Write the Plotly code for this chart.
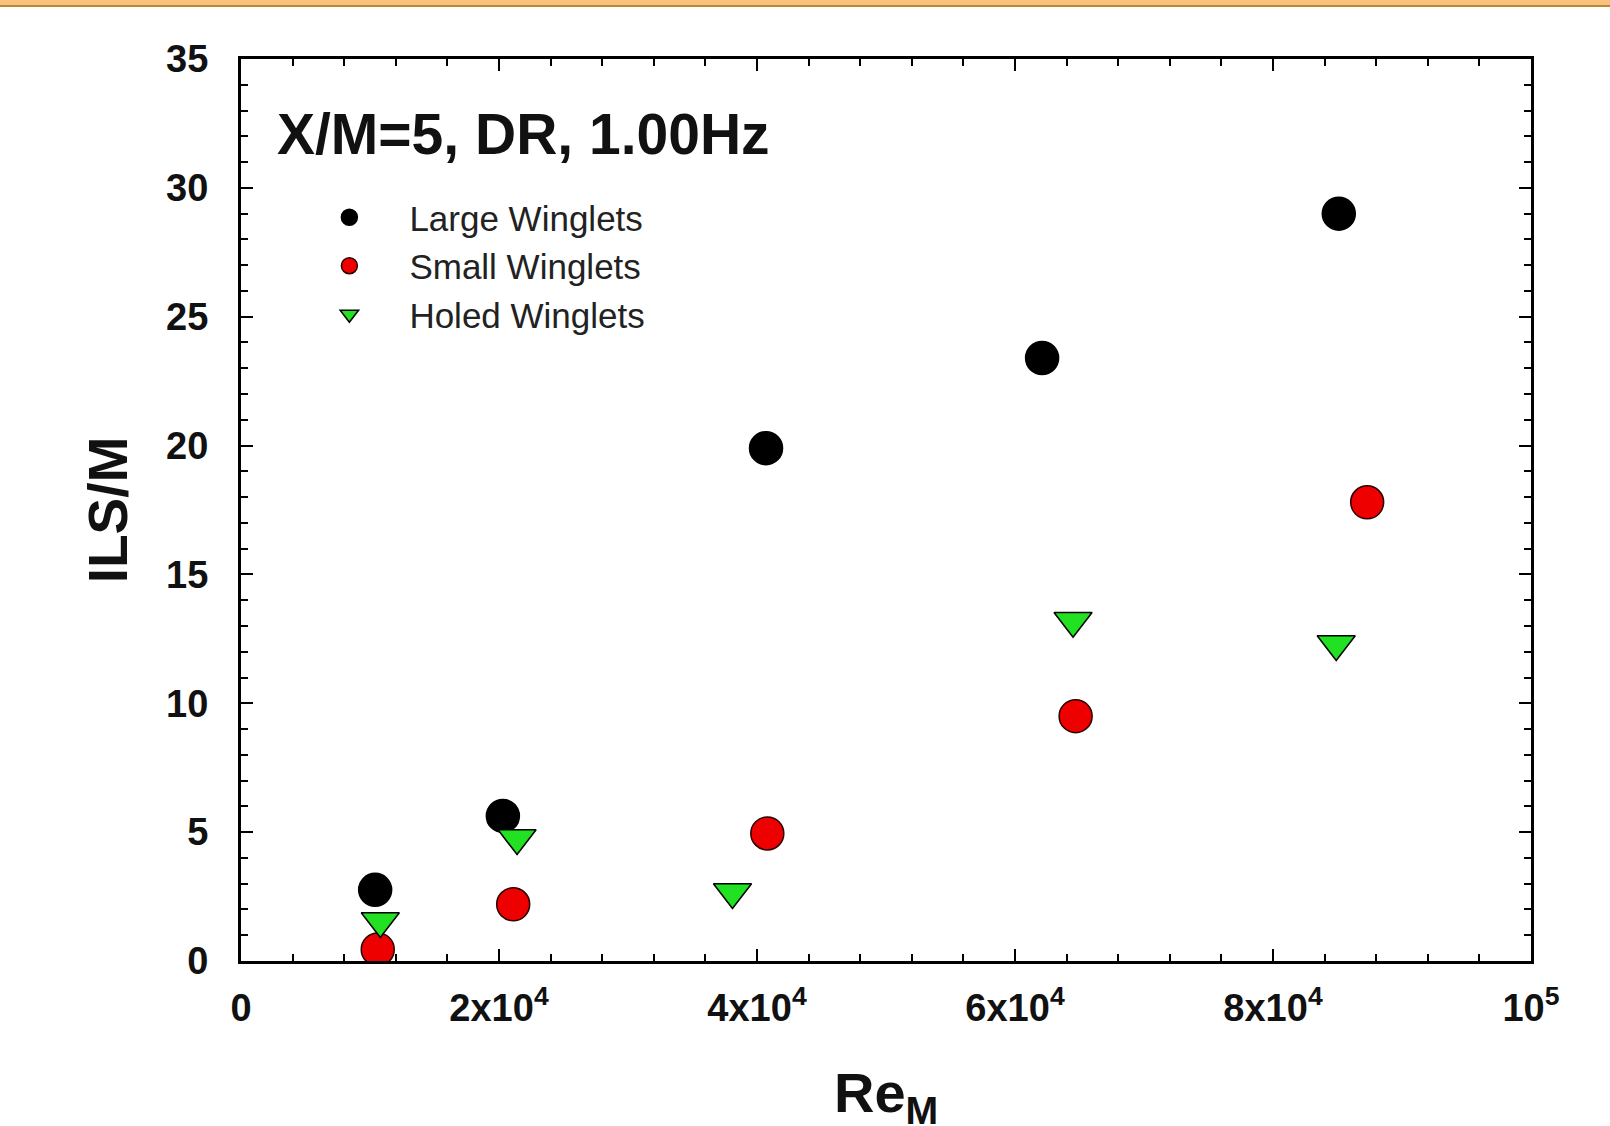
import plotly.graph_objects as go

# ---- data ----
series_names = ["Large Winglets", "Small Winglets", "Holed Winglets"]
large_x = [10400, 20300, 40700, 62100, 85100]
large_y = [2.76, 5.63, 19.9, 23.4, 29.0]
small_x = [10600, 21100, 40800, 64700, 87300]
small_y = [0.45, 2.2, 4.95, 9.5, 17.8]
holed_x = [10800, 21400, 38100, 64500, 84900]
holed_y = [1.55, 4.77, 2.68, 13.2, 12.3]

x_tickvals = [0, 20000, 40000, 60000, 80000, 100000]
x_ticktext = ["0", "2x10<sup>4</sup>", "4x10<sup>4</sup>", "6x10<sup>4</sup>",
              "8x10<sup>4</sup>", "10<sup>5</sup>"]
y_tickvals = [0, 5, 10, 15, 20, 25, 30, 35]

annotation_text = "X/M=5, DR, 1.00Hz"
x_title = "Re<sub>M</sub>"
y_title = "ILS/M"

FONT = "Liberation Sans, Arial, Helvetica, sans-serif"

fig = go.Figure()
fig.add_trace(go.Scatter(
    x=large_x, y=large_y, mode="markers", name=series_names[0],
    marker=dict(symbol="circle", size=33, color="#000000",
                line=dict(color="#000000", width=1.5))))
fig.add_trace(go.Scatter(
    x=small_x, y=small_y, mode="markers", name=series_names[1],
    marker=dict(symbol="circle", size=33, color="#ee0000",
                line=dict(color="#2a0000", width=1.5))))
fig.add_trace(go.Scatter(
    x=holed_x, y=holed_y, mode="markers", name=series_names[2],
    marker=dict(symbol="triangle-down", size=33, color="#22e022",
                line=dict(color="#000000", width=1.5))))

axis_common = dict(
    showgrid=False, zeroline=False, showline=True, linecolor="#000000",
    linewidth=3, mirror="allticks", ticks="inside", ticklen=12, tickwidth=2,
    tickcolor="#000000", automargin=False,
    tickfont=dict(family=FONT, size=38, color="#111111", weight="bold"),
)

fig.update_xaxes(
    **axis_common, range=[0, 100000], tickvals=x_tickvals, ticktext=x_ticktext,
    minor=dict(dtick=4000, tick0=0, ticks="inside", ticklen=7, tickwidth=2,
               tickcolor="#000000"),
    ticklabelstandoff=11,
)
fig.update_yaxes(
    **axis_common, range=[0, 35], tickvals=y_tickvals,
    minor=dict(dtick=1, tick0=0, ticks="inside", ticklen=7, tickwidth=2,
               tickcolor="#000000"),
    ticklabelstandoff=22,
    title=dict(text=y_title, standoff=21,
               font=dict(family=FONT, size=55, color="#111111", weight="bold")),
)

# x-axis title, placed as an annotation below the tick labels
fig.add_annotation(
    text=x_title, xref="paper", yref="paper", x=0.5, y=0,
    xanchor="center", yanchor="top", yshift=-98, showarrow=False,
    font=dict(family=FONT, size=56, color="#111111", weight="bold"),
)

fig.add_annotation(
    text=annotation_text, xref="paper", yref="paper", x=0.026, y=0.955,
    xanchor="left", yanchor="top", showarrow=False,
    font=dict(family=FONT, size=57, color="#111111", weight="bold"),
)

# decorative orange band along the very top of the picture
fig.add_shape(type="rect", xref="paper", yref="paper", x0=-0.3, x1=1.3,
              ysizemode="pixel", yanchor=1, y0=59, y1=53,
              fillcolor="#f6c27c", line=dict(width=0), layer="above")
fig.add_shape(type="line", xref="paper", yref="paper", x0=-0.3, x1=1.3,
              ysizemode="pixel", yanchor=1, y0=53, y1=53,
              line=dict(color="#c08436", width=2), layer="above")

fig.update_layout(
    width=1610, height=1126,
    margin=dict(l=241, r=79, t=59, b=165, pad=0, autoexpand=False),
    paper_bgcolor="#ffffff", plot_bgcolor="#ffffff",
    font=dict(family=FONT, color="#111111"),
    showlegend=True,
    legend=dict(x=0.0375, y=0.857, xanchor="left", yanchor="top",
                bgcolor="rgba(0,0,0,0)", borderwidth=0,
                font=dict(family=FONT, size=35, color="#222222"),
                itemwidth=110, tracegroupgap=0),
)

fig.write_html("out.html")
